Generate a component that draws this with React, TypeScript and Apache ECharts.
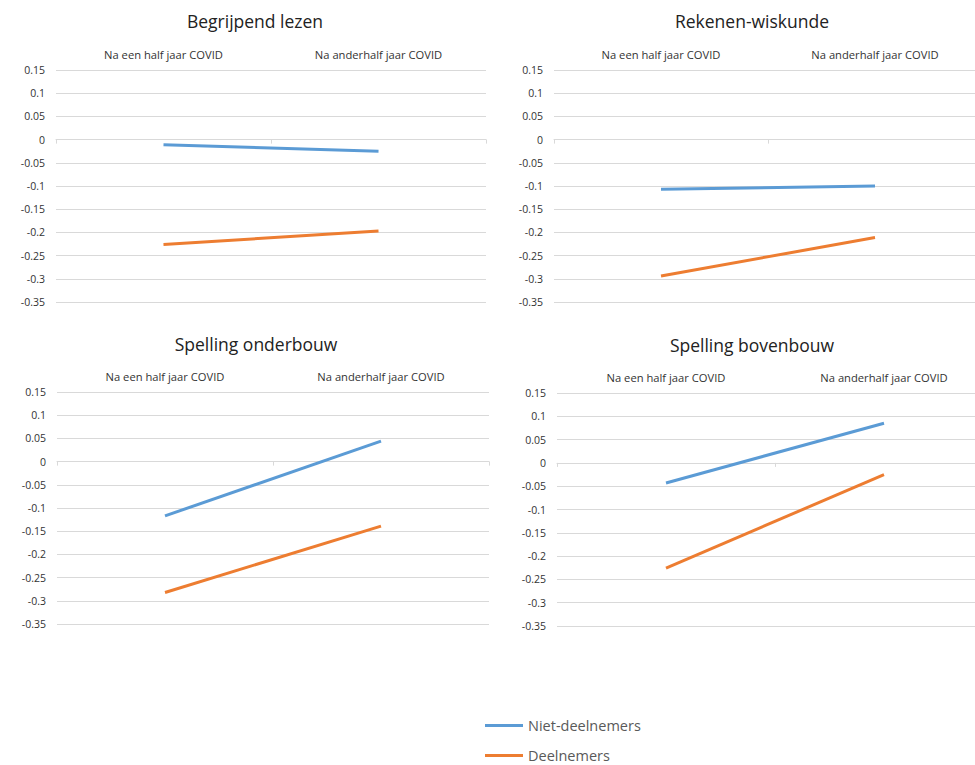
import React, { useEffect, useRef } from "react";
import * as echarts from "echarts";

const categories = ["Na een half jaar COVID", "Na anderhalf jaar COVID"];
const panelTitles = ["Begrijpend lezen", "Rekenen-wiskunde", "Spelling onderbouw", "Spelling bovenbouw"];
const seriesNames = ["Niet-deelnemers", "Deelnemers"];

const nietDeelnemersLezen = [-0.011, -0.025];
const deelnemersLezen = [-0.226, -0.197];
const nietDeelnemersRekenen = [-0.107, -0.1];
const deelnemersRekenen = [-0.294, -0.211];
const nietDeelnemersSpellingOnder = [-0.117, 0.044];
const deelnemersSpellingOnder = [-0.282, -0.139];
const nietDeelnemersSpellingBoven = [-0.043, 0.085];
const deelnemersSpellingBoven = [-0.226, -0.025];

const yMin = -0.35;
const yMax = 0.15;
const yStep = 0.05;

const panelData = [
  [nietDeelnemersLezen, deelnemersLezen],
  [nietDeelnemersRekenen, deelnemersRekenen],
  [nietDeelnemersSpellingOnder, deelnemersSpellingOnder],
  [nietDeelnemersSpellingBoven, deelnemersSpellingBoven],
];

const colors = ["#5B9BD5", "#ED7D31"];
const FONT = "'Open Sans', sans-serif";

const grids = [
  { left: 56, top: 70, width: 430, height: 232 },
  { left: 554, top: 70, width: 428, height: 232 },
  { left: 57, top: 392, width: 432, height: 232 },
  { left: 557, top: 393, width: 436, height: 233 },
];
const titlePos = [
  { x: 255, y: 12 },
  { x: 752, y: 12 },
  { x: 256, y: 335 },
  { x: 752, y: 336 },
];
const legendTops = [718, 748];

export default function App() {
  const ref = useRef<HTMLDivElement>(null);
  useEffect(() => {
    if (!ref.current) return;
    const chart = echarts.init(ref.current, undefined, { renderer: "svg" });
    const xAxis: any[] = [];
    const yAxis: any[] = [];
    const series: any[] = [];
    grids.forEach((g, i) => {
      xAxis.push({
        type: "category",
        gridIndex: i,
        position: "top",
        data: categories,
        boundaryGap: true,
        axisLine: { show: false, onZero: false },
        axisTick: { show: false },
        axisLabel: { color: "#333", fontSize: 11.2, fontFamily: FONT, margin: 10 },
      });
      xAxis.push({
        type: "category",
        gridIndex: i,
        position: "bottom",
        data: categories,
        boundaryGap: true,
        axisLine: { show: true, onZero: true, lineStyle: { color: "#d9d9d9", width: 1 } },
        axisTick: { show: true, length: 4, lineStyle: { color: "#d9d9d9" } },
        axisLabel: { show: false },
      });
      yAxis.push({
        type: "value",
        gridIndex: i,
        min: yMin,
        max: yMax,
        interval: yStep,
        axisLine: { show: false },
        axisTick: { show: false },
        splitLine: { show: true, lineStyle: { color: "#d9d9d9", width: 1 } },
        axisLabel: {
          color: "#333",
          fontSize: 10.5,
          fontFamily: FONT,
          margin: 11,
          formatter: (v: number) => String(+v.toFixed(2)),
        },
      });
      panelData[i].forEach((vals, s) => {
        series.push({
          type: "line",
          name: seriesNames[s],
          xAxisIndex: i * 2,
          yAxisIndex: i,
          data: vals,
          symbol: "none",
          lineStyle: { color: colors[s], width: 3 },
          itemStyle: { color: colors[s] },
          z: 3,
        });
      });
    });
    chart.setOption({
      animation: false,
      backgroundColor: "#fff",
      title: panelTitles.map((t, i) => ({
        text: t,
        left: titlePos[i].x,
        top: titlePos[i].y,
        textAlign: "center",
        padding: 0,
        textStyle: { fontSize: 17.5, fontWeight: "normal", color: "#222", fontFamily: FONT },
      })),
      legend: seriesNames.map((name, k) => ({
        orient: "vertical",
        left: 485,
        top: legendTops[k],
        padding: 0,
        icon: "rect",
        itemWidth: 38,
        itemHeight: 3,
        data: [name],
        selectedMode: false,
        textStyle: { color: "#595959", fontSize: 14.5, fontFamily: FONT },
      })),
      grid: grids.map((g) => ({ ...g, containLabel: false, outerBoundsMode: "none" })),
      xAxis,
      yAxis,
      series,
    });
    return () => chart.dispose();
  }, []);
  return (
    <div
      ref={ref}
      style={{ position: "fixed", left: 0, top: 0, width: 975, height: 765, background: "#fff" }}
    />
  );
}
